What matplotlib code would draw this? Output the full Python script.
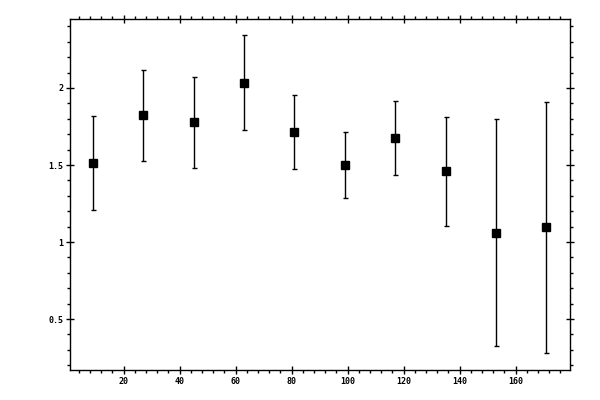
import matplotlib
matplotlib.use("Agg")
import matplotlib.pyplot as plt
from matplotlib.ticker import MultipleLocator

# data
x = [9, 27, 45, 63, 81, 99, 117, 135, 153, 171]
y = [1.513, 1.825, 1.779, 2.032, 1.714, 1.500, 1.675, 1.461, 1.058, 1.099]
y_hi = [1.818, 2.117, 2.071, 2.346, 1.955, 1.714, 1.918, 1.812, 1.799, 1.909]
y_lo = [1.208, 1.526, 1.481, 1.727, 1.474, 1.286, 1.437, 1.104, 0.327, 0.279]

err_lo = [a - b for a, b in zip(y, y_lo)]
err_hi = [b - a for a, b in zip(y, y_hi)]

fig = plt.figure(figsize=(6, 4), dpi=100)
ax = fig.add_axes([70 / 600, 30 / 400, 500 / 600, 351 / 400])

ax.errorbar(x, y, yerr=[err_lo, err_hi], fmt="s", color="black",
            ms=5.4, elinewidth=1, capsize=1.8, capthick=1)

ax.set_xlim(0.9, 179.4)
ax.set_ylim(0.169, 2.448)

ax.xaxis.set_major_locator(MultipleLocator(20))
ax.xaxis.set_minor_locator(MultipleLocator(4))
ax.yaxis.set_major_locator(MultipleLocator(0.5))
ax.yaxis.set_minor_locator(MultipleLocator(0.1))
ax.yaxis.set_major_formatter(plt.FuncFormatter(lambda v, p: "%g" % v))

ax.tick_params(which="major", direction="inout", length=6, width=1,
               top=True, right=True, labelsize=6, pad=2)
ax.tick_params(which="minor", direction="out", length=2.2, width=1,
               top=True, right=True)
for lab in ax.get_xticklabels() + ax.get_yticklabels():
    lab.set_family("DejaVu Sans Mono")
    lab.set_fontweight("bold")

for s in ax.spines.values():
    s.set_linewidth(1)

fig.savefig("out.png", dpi=100)
